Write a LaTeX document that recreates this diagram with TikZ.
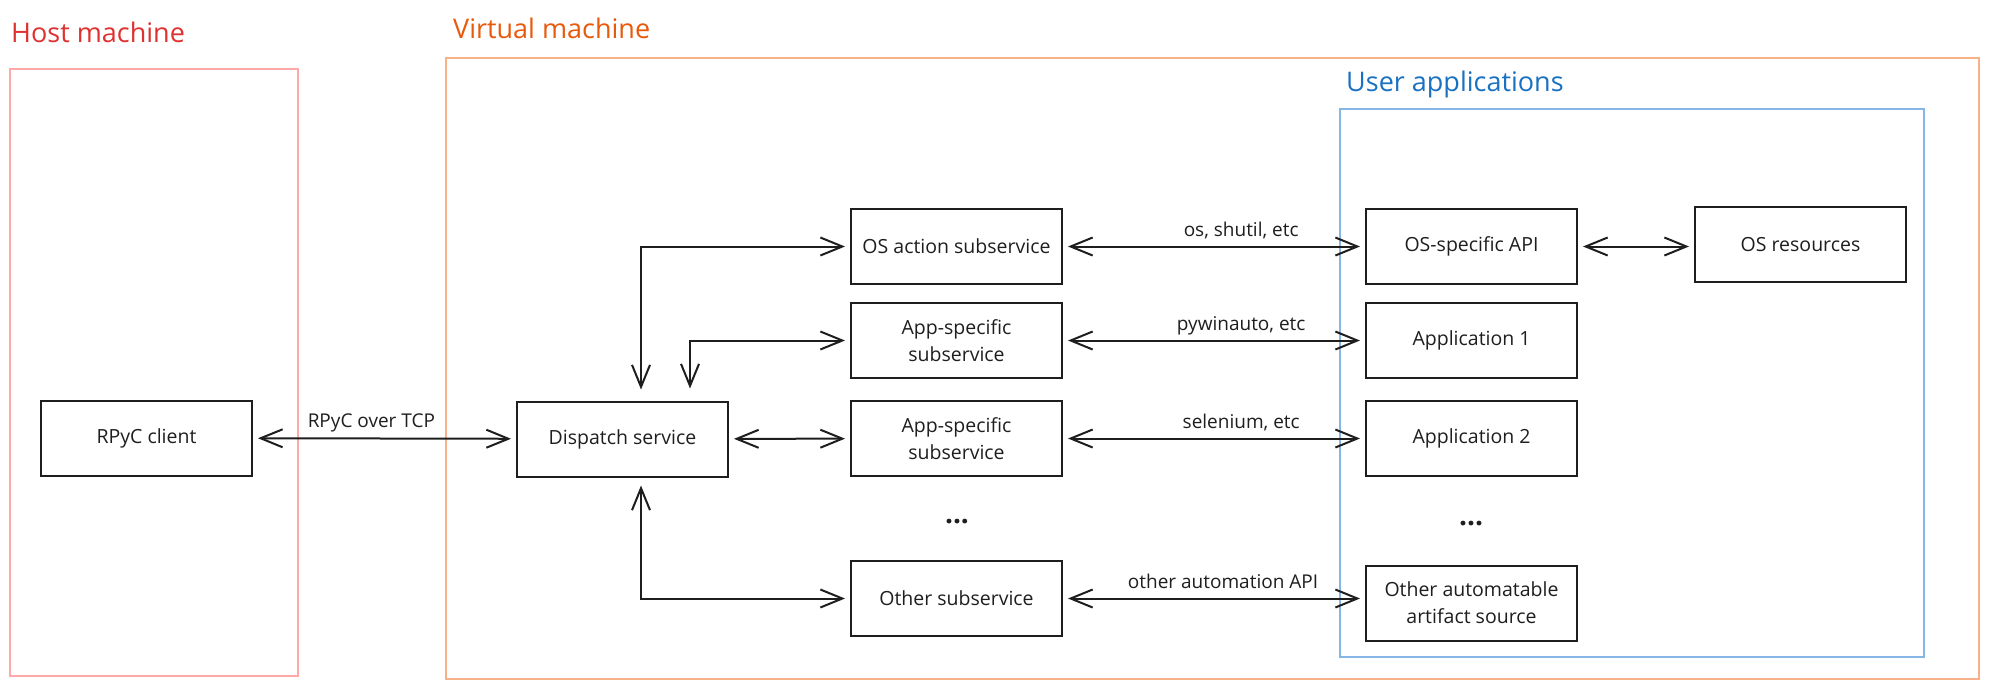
\documentclass[tikz,border=0pt]{standalone}
\usepackage{fontspec}
\setmainfont{Open Sans}
\usetikzlibrary{arrows.meta}
\definecolor{hostred}{HTML}{E03131}
\definecolor{hostline}{HTML}{FFA8A8}
\definecolor{vmorange}{HTML}{E8590C}
\definecolor{vmline}{HTML}{F8B088}
\definecolor{userblue}{HTML}{1971C2}
\definecolor{userline}{HTML}{85B6E6}
\definecolor{ink}{HTML}{1E1E1E}
\tikzset{
  box/.style={draw=ink, line width=2pt, minimum width=211pt, minimum height=75pt,
    align=center, text=ink, font=\fontsize{19.5}{27}\selectfont},
  link/.style={draw=ink, line width=2pt,
    {Straight Barb[length=22pt,width=18pt]}-{Straight Barb[length=22pt,width=18pt]},
    shorten <=5pt, shorten >=5pt},
  tag/.style={text=ink, inner sep=2pt, text depth=0.25em, font=\fontsize{19}{23}\selectfont},
  title/.style={anchor=base west, inner sep=0pt, font=\fontsize{27}{32}\selectfont},
  dots/.style={text=ink, font=\fontsize{28}{30}\selectfont\bfseries},
}
\begin{document}
\begin{tikzpicture}[x=1pt, y=-1pt]
  \useasboundingbox (0,0) rectangle (1989,689);

  % machines
  \draw[hostline, line width=1.6pt] (10,69) rectangle (298,676);
  \draw[vmline, line width=1.6pt] (446,58) rectangle (1979,679);
  \draw[userline, line width=1.6pt] (1340,109) rectangle (1924,657);
  \node[title, text=hostred] (hosttitle) at (11,42) {Host machine};
  \node[title, text=vmorange] (vmtitle) at (453,38) {Virtual machine};
  \node[title, text=userblue] (usertitle) at (1346,91) {User applications};

  \node[box] (rpyc) at (146.5,438) {RPyC client};
  \node[box] (dispatch) at (622.5,439) {Dispatch service};

  \node[box] (osact) at (956.5,246.5) {OS action subservice};
  \node[box] (app1s) at (956.5,340.5) {App-specific\\subservice};
  \node[box] (app2s) at (956.5,438.5) {App-specific\\subservice};
  \node[dots] (subdots) at (957,522) {...};
  \node[box] (othersub) at (956.5,598.5) {Other subservice};

  \node[box] (osapi) at (1471.5,246.5) {OS-specific API};
  \node[box] (appl1) at (1471.5,340.5) {Application 1};
  \node[box] (appl2) at (1471.5,438.5) {Application 2};
  \node[dots] (appdots) at (1471,524) {...};
  \node[box] (otherart) at (1471.5,603) {Other automatable\\artifact source};
  \node[box] (osres) at (1800.5,244.5) {OS resources};

  \draw[link] (rpyc) -- node[tag, above=5pt, pos=0.45] {RPyC over TCP} (dispatch);
  \draw[link] (dispatch) -- (app2s);
  \draw[link, shorten >=11pt] (osact.west) -| ([xshift=125pt]dispatch.north west);
  \draw[link, shorten >=12pt] (app1s.west) -| ([xshift=174pt]dispatch.north west);
  \draw[link, shorten >=8pt] (othersub.west) -| ([xshift=125pt]dispatch.south west);

  \draw[link] (osact) -- node[tag, above=5pt, pos=0.59] {os, shutil, etc} (osapi);
  \draw[link] (app1s) -- node[tag, above=5pt, pos=0.59] {pywinauto, etc} (appl1);
  \draw[link] (app2s) -- node[tag, above=5pt, pos=0.59] {selenium, etc} (appl2);
  \draw[link] (othersub.east) -- node[tag, above=5pt, pos=0.53] {other automation API} (othersub.east -| otherart.west);
  \draw[link] (osapi) -- (osapi -| osres.west);
\end{tikzpicture}
\end{document}
